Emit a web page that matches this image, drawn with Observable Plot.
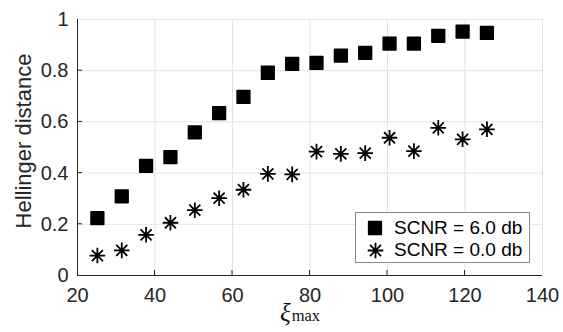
<!DOCTYPE html>
<html>
<head>
<meta charset="utf-8">
<script src="https://cdn.jsdelivr.net/npm/d3@7"></script>
<script src="https://cdn.jsdelivr.net/npm/@observablehq/plot@0.6"></script>
<style>
  html, body { margin: 0; padding: 0; background: #fff; }
  #wrap { position: relative; width: 563px; height: 332px; }
  #legend {
    position: absolute; left: 355px; top: 212px; width: 175px; height: 51px;
    box-sizing: border-box; border: 1px solid #8a8a8a; background: #fff;
    font-family: "Liberation Sans", Arial, sans-serif; font-size: 19px; color: #000;
  }
  .row { position: absolute; left: 0; height: 22px; display: flex; align-items: center; }
  .row svg { margin-left: 11px; margin-right: 10px; }
  .row span { position: absolute; left: 38px; white-space: nowrap; }
</style>
</head>
<body>
<div id="wrap"></div>
<script>
const xi = [25.13, 31.42, 37.70, 43.98, 50.27, 56.55, 62.83, 69.12, 75.40, 81.68, 87.96, 94.25, 100.53, 106.81, 113.10, 119.38, 125.66];
const scnr6 = [0.224, 0.309, 0.428, 0.462, 0.559, 0.634, 0.698, 0.792, 0.827, 0.831, 0.859, 0.870, 0.906, 0.906, 0.936, 0.953, 0.948];
const scnr0 = [0.078, 0.098, 0.159, 0.206, 0.255, 0.302, 0.335, 0.397, 0.395, 0.484, 0.475, 0.478, 0.538, 0.486, 0.577, 0.532, 0.571];
const seriesNames = ["SCNR = 6.0 db", "SCNR = 0.0 db"];
const xTicks = [20, 40, 60, 80, 100, 120, 140];
const yTicks = [0, 0.2, 0.4, 0.6, 0.8, 1];
const yTickLabels = ["0", "0.2", "0.4", "0.6", "0.8", "1"];

const asterisk = {
  draw(ctx, size) {
    const r = Math.sqrt(size / Math.PI);
    const d = r * Math.SQRT1_2;
    ctx.moveTo(0, -r); ctx.lineTo(0, r);
    ctx.moveTo(-r, 0); ctx.lineTo(r, 0);
    ctx.moveTo(-d, -d); ctx.lineTo(d, d);
    ctx.moveTo(-d, d); ctx.lineTo(d, -d);
  }
};

const sq = xi.map((x, i) => ({x, y: scnr6[i]}));
const st = xi.map((x, i) => ({x, y: scnr0[i]}));

const axisColor = "#262626";
const chart = Plot.plot({
  width: 563,
  height: 332,
  marginLeft: 77,
  marginRight: 21,
  marginTop: 19,
  marginBottom: 57,
  style: {fontFamily: "'Liberation Sans', Arial, sans-serif", background: "#fff", overflow: "visible"},
  x: {type: "linear", domain: [20, 140]},
  y: {type: "linear", domain: [0, 1]},
  marks: [
    Plot.gridX(xTicks, {stroke: "#e3e3e3", strokeOpacity: 1}),
    Plot.gridY(yTicks, {stroke: "#e3e3e3", strokeOpacity: 1}),
    Plot.ruleX([20], {stroke: axisColor, strokeWidth: 1}),
    Plot.ruleY([0], {stroke: axisColor, strokeWidth: 1}),
    Plot.axisX(xTicks, {tickSize: 0, tickPadding: 12, fontSize: 20, fill: axisColor, label: null}),
    Plot.axisY(yTicks, {tickSize: 0, tickPadding: 9, fontSize: 20, fill: axisColor, label: null,
      tickFormat: d => yTickLabels[yTicks.indexOf(d)]}),
    Plot.dot(sq, {x: "x", y: "y", symbol: "square", r: 7.2, fill: "#000", stroke: "#000", strokeWidth: 1.5, strokeLinejoin: "round"}),
    Plot.dot(st, {x: "x", y: "y", symbol: asterisk, r: 7.8, fill: "none", stroke: "#000", strokeWidth: 1.8})
  ]
});

// inside ticks and axis labels
const svg = d3.select(chart);
const xs = chart.scale("x"), ys = chart.scale("y");
const x0 = xs.apply(20), y0 = ys.apply(0);
const g = svg.append("g").attr("stroke", axisColor);
yTicks.slice(1, -1).forEach(v => {
  g.append("line").attr("x1", x0).attr("x2", x0 + 5).attr("y1", ys.apply(v)).attr("y2", ys.apply(v));
});
xTicks.slice(1, -1).forEach(v => {
  g.append("line").attr("x1", xs.apply(v)).attr("x2", xs.apply(v)).attr("y1", y0).attr("y2", y0 - 5);
});
svg.append("text")
  .attr("transform", `translate(31,141) rotate(-90)`)
  .attr("text-anchor", "middle")
  .attr("font-size", 22)
  .attr("fill", axisColor)
  .attr("font-family", "'Liberation Sans', Arial, sans-serif")
  .text("Hellinger distance");
const xl = svg.append("text")
  .attr("x", 300).attr("y", 321)
  .attr("text-anchor", "middle")
  .attr("font-family", "'Liberation Serif', 'DejaVu Serif', serif")
  .attr("fill", "#111");
xl.append("tspan").attr("font-style", "italic").attr("font-size", 25).text("ξ");
xl.append("tspan").attr("font-size", 16.5).attr("dx", 1).text("max");

document.getElementById("wrap").appendChild(chart);

// legend
const leg = document.createElement("div");
leg.id = "legend";
const sqIcon = `<svg width="16" height="16" viewBox="-8 -8 16 16"><rect x="-6.4" y="-6.4" width="12.8" height="12.8" fill="#000" stroke="#000" stroke-width="1.5" stroke-linejoin="round"/></svg>`;
const stIcon = `<svg width="17" height="17" viewBox="-8.5 -8.5 17 17"><path d="${(() => { const p = d3.path(); asterisk.draw(p, 7.8*7.8*Math.PI); return p.toString(); })()}" stroke="#000" stroke-width="1.8" fill="none"/></svg>`;
leg.innerHTML = `
  <div class="row" style="top:4px">${sqIcon}<span>${seriesNames[0]}</span></div>
  <div class="row" style="top:26px">${stIcon}<span>${seriesNames[1]}</span></div>`;
document.getElementById("wrap").appendChild(leg);
</script>
</body>
</html>
